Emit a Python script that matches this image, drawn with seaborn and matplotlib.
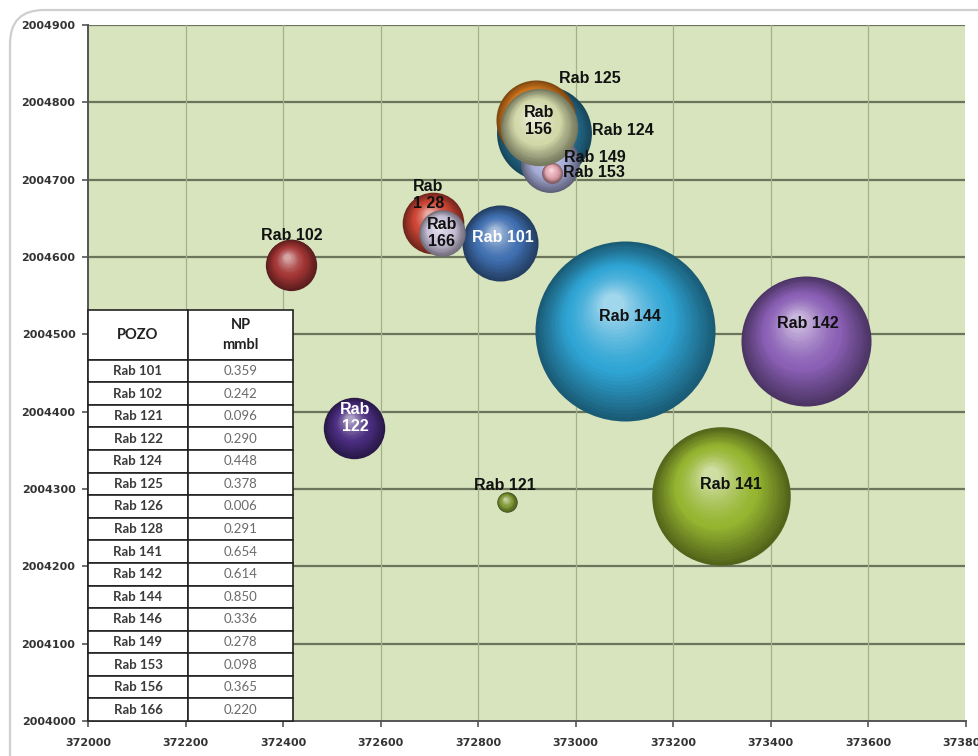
import numpy as np
import pandas as pd
import matplotlib
matplotlib.use("Agg")
import matplotlib.pyplot as plt
import matplotlib.transforms as mtransforms
from matplotlib.patches import FancyBboxPatch
from matplotlib.colors import to_rgb
from matplotlib.ticker import FuncFormatter
import seaborn as sns

# ---- well data: cumulative production (NP, mmbl) and surface coordinates ----
wells = ["Rab 101", "Rab 102", "Rab 121", "Rab 122", "Rab 124", "Rab 125",
         "Rab 126", "Rab 128", "Rab 141", "Rab 142", "Rab 144", "Rab 146",
         "Rab 149", "Rab 153", "Rab 156", "Rab 166"]
np_mmbl = [0.359, 0.242, 0.096, 0.290, 0.448, 0.378, 0.006, 0.291,
           0.654, 0.614, 0.850, 0.336, 0.278, 0.098, 0.365, 0.220]
x_coord = [372845, 372416, 372859, 372546, 372935, 372919, 372930, 372708,
           373298, 373473, 373102, 372925, 372948, 372952, 372925, 372726]
y_coord = [2004618, 2004590, 2004283, 2004379, 2004760, 2004777, 2004745, 2004644,
           2004291, 2004492, 2004504, 2004768, 2004721, 2004709, 2004768, 2004631]

x_ticks = list(range(372000, 373801, 200))
y_ticks = list(range(2004000, 2004901, 100))

# ---- styling ----
bubble_colors = {
    "Rab 101": "#3f6fb0", "Rab 102": "#a33535", "Rab 121": "#7f9a35",
    "Rab 122": "#4a2d80", "Rab 124": "#2a7fa5", "Rab 125": "#e8831f",
    "Rab 126": "#b0b0b0", "Rab 128": "#cc4433", "Rab 141": "#95b530",
    "Rab 142": "#8a5fb5", "Rab 144": "#2fa5d5", "Rab 146": "#6a9ad0",
    "Rab 149": "#a6acd8", "Rab 153": "#e6a6b0", "Rab 156": "#d2d8a8",
    "Rab 166": "#c8c0d8",
}
# label text and offset (pixels) from the bubble centre
bubble_labels = {
    "Rab 101": ("Rab 101", 3, 6, "white"),
    "Rab 102": ("Rab 102", 1, 29, "#111111"),
    "Rab 121": ("Rab 121", -2, 17, "#111111"),
    "Rab 122": ("Rab\n122", 1, 10, "white"),
    "Rab 124": ("Rab 124", 79, 3, "#111111"),
    "Rab 125": ("Rab 125", 54, 42, "#111111"),
    "Rab 128": ("Rab\n1 28", -5, 28, "#111111"),
    "Rab 141": ("Rab 141", 10, 11, "#111111"),
    "Rab 142": ("Rab 142", 2, 17, "#111111"),
    "Rab 144": ("Rab 144", 5, 15, "#111111"),
    "Rab 149": ("Rab 149", 45, 6, "#111111"),
    "Rab 153": ("Rab 153", 42, 0, "#111111"),
    "Rab 156": ("Rab\n156", 0, 6, "#111111"),
    "Rab 166": ("Rab\n166", 0, 0, "#111111"),
}
RADIUS_PX_PER_MMBL = 105.9   # bubble radius grows linearly with NP
DPI = 100
W, H = 979, 756

sns.set_style("ticks")
plt.rcParams["font.family"] = ["DejaVu Sans"]

df = pd.DataFrame({"POZO": wells, "NP": np_mmbl, "X": x_coord, "Y": y_coord})

fig = plt.figure(figsize=(W / DPI, H / DPI), dpi=DPI, facecolor="white")

# rounded card frame behind the chart
frame = FancyBboxPatch((10, -60), 1100, 746 + 60,
                       boxstyle="round,pad=0,rounding_size=34",
                       transform=mtransforms.IdentityTransform(),
                       facecolor="white", edgecolor="#cfcfcf", linewidth=1.6,
                       zorder=-5)
fig.add_artist(frame)

ax = fig.add_axes([88 / W, 1 - 721 / H, (965.5 - 88) / W, (721 - 25) / H])
ax.set_facecolor("#d7e4bd")
ax.set_xlim(x_ticks[0], x_ticks[-1])
ax.set_ylim(y_ticks[0], y_ticks[-1])


def shade(base, t):
    """Colour of a sphere layer: dark rim (t=0) -> base -> highlight (t=1)."""
    b = np.array(to_rgb(base))
    dark = b * 0.55
    light = b + (1 - b) * 0.55
    if t < 0.45:
        u = t / 0.45
        return tuple(dark + (b - dark) * u)
    u = (t - 0.45) / 0.55
    return tuple(b + (light - b) * u ** 1.4)


N_LAYERS = 30
for k, row in df.iterrows():
    r_px = row["NP"] * RADIUS_PX_PER_MMBL
    base = bubble_colors[row["POZO"]]
    z0 = 3 + k * 0.1
    r_pt = r_px * 72 / DPI
    # outer rim of the sphere
    sns.scatterplot(x=[row["X"]], y=[row["Y"]], ax=ax, s=(2 * r_pt) ** 2,
                    color=shade(base, 0.0), linewidth=0, legend=False,
                    zorder=z0)
    for i in range(1, N_LAYERS):
        t = i / (N_LAYERS - 1)
        ri = r_pt * (1 - 0.88 * t)
        off = mtransforms.offset_copy(ax.transData, fig=fig,
                                      x=-0.14 * r_pt * t, y=0.30 * r_pt * t,
                                      units="points")
        ax.scatter([row["X"]], [row["Y"]], s=(2 * ri) ** 2,
                   color=shade(base, t), linewidths=0, transform=off,
                   zorder=z0 + i * 0.002)

# bubble labels
for k, row in df.iterrows():
    if row["POZO"] not in bubble_labels:
        continue
    text, dx, dy, col = bubble_labels[row["POZO"]]
    ax.annotate(text, (row["X"], row["Y"]), xytext=(dx, dy),
                textcoords="offset pixels", ha="center", va="center",
                fontsize=11.5, fontweight="bold", color=col,
                family="Liberation Sans", linespacing=1.15, zorder=20)

# grid and axes
ax.set_xticks(x_ticks)
ax.set_yticks(y_ticks)
for yv in y_ticks[1:]:
    ax.axhline(yv, color="#6a755b", lw=1.6, zorder=1)
for xv in x_ticks[1:]:
    ax.axvline(xv, color="#a3b08c", lw=0.9, zorder=1)
for side in ["top", "right"]:
    ax.spines[side].set_visible(False)
for side in ["left", "bottom"]:
    ax.spines[side].set_color("#555555")
    ax.spines[side].set_linewidth(1.4)
    ax.spines[side].set_zorder(2)
ax.tick_params(axis="both", direction="out", length=4, width=1.2,
               color="#555555", labelsize=8, labelcolor="#333333")
ax.tick_params(axis="x", pad=8)
ax.tick_params(axis="y", pad=5)
fmt = FuncFormatter(lambda v, p: f"{int(round(v))}")
ax.xaxis.set_major_formatter(fmt)
ax.yaxis.set_major_formatter(fmt)
for lab in ax.get_xticklabels() + ax.get_yticklabels():
    lab.set_fontweight("bold")
ax.set_xlabel("")
ax.set_ylabel("")

# production table
cell_text = [[w, f"{v:.3f}"] for w, v in zip(wells, np_mmbl)]
tbl = ax.table(cellText=cell_text, colLabels=["POZO", "NP\nmmbl"],
               colWidths=[100, 105], cellLoc="center",
               bbox=[0, 0, (293 - 88) / (965.5 - 88), (721 - 310) / (721 - 25)])
tbl.auto_set_font_size(False)
tbl.set_zorder(30)
row_h = tbl[(1, 0)].get_height()
for (r, c), cell in tbl.get_celld().items():
    cell.set_facecolor("white")
    cell.set_edgecolor("#222222")
    cell.set_linewidth(1.2)
    txt = cell.get_text()
    txt.set_family("Lato")
    if r == 0:
        cell.set_height(row_h * 2.2)
        txt.set_fontsize(10.5)
        txt.set_fontweight("bold")
        txt.set_color("#222222")
        txt.set_linespacing(1.6)
    elif c == 0:
        txt.set_fontsize(9.5)
        txt.set_fontweight("bold")
        txt.set_color("#3a3a3a")
    else:
        txt.set_fontsize(9.5)
        txt.set_color("#6a6a6a")

fig.savefig("out.png", dpi=DPI, facecolor="white")
